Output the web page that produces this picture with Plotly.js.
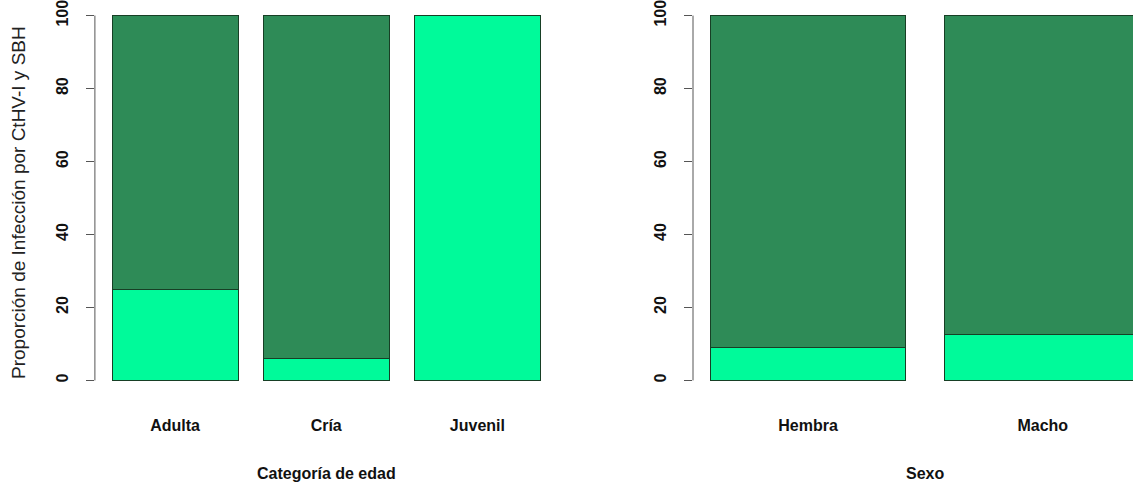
<!DOCTYPE html>
<html>
<head>
<meta charset="utf-8">
<script src="https://cdn.plot.ly/plotly-3.0.1.min.js"></script>
<style>
  html, body { margin: 0; padding: 0; background: #fff; }
  #chart { width: 1133px; height: 485px; }
</style>
</head>
<body>
<div id="chart"></div>
<script>
// Age categories: percentage infected (light) and not infected (dark)
const edadCategorias = ['Adulta', 'Cría', 'Juvenil'];
const edadInfectados = [25, 6, 100];
const edadNoInfectados = [75, 94, 0];

// Sex categories
const sexoCategorias = ['Hembra', 'Macho'];
const sexoInfectados = [9, 12.5];
const sexoNoInfectados = [91, 87.5];

const yTicks = [0, 20, 40, 60, 80, 100];

const colorClaro = '#00FA9A';
const colorOscuro = '#2E8B57';
const borde = { color: '#173f25', width: 1 };

const W = 1133;
const boldFont = { family: 'Liberation Sans, Arial, sans-serif', size: 16, color: '#111', weight: 'bold' };

const traces = [
  { type: 'bar', x: edadCategorias, y: edadInfectados, xaxis: 'x', yaxis: 'y',
    marker: { color: colorClaro, line: borde }, hoverinfo: 'x+y' },
  { type: 'bar', x: edadCategorias, y: edadNoInfectados, xaxis: 'x', yaxis: 'y',
    marker: { color: colorOscuro, line: borde }, hoverinfo: 'x+y' },
  { type: 'bar', x: sexoCategorias, y: sexoInfectados, xaxis: 'x2', yaxis: 'y2',
    marker: { color: colorClaro, line: borde }, hoverinfo: 'x+y' },
  { type: 'bar', x: sexoCategorias, y: sexoNoInfectados, xaxis: 'x2', yaxis: 'y2',
    marker: { color: colorOscuro, line: borde }, hoverinfo: 'x+y' }
];

function yAxis(anchor) {
  return {
    anchor: anchor,
    range: [-4, 104],
    tickvals: yTicks,
    ticktext: yTicks.map(String),
    ticks: 'outside', ticklen: 8, tickwidth: 1, tickcolor: '#555',
    tickangle: -90,
    ticklabelstandoff: 12,
    ticklabeloverflow: 'allow',
    tickfont: boldFont,
    showgrid: false, zeroline: false, showline: false,
    fixedrange: true
  };
}

function xAxis(anchor, domain, range) {
  return {
    anchor: anchor,
    type: 'category',
    domain: domain,
    range: range,
    ticks: '', showline: false, showgrid: false, zeroline: false,
    tickfont: boldFont,
    ticklabelstandoff: 19,
    fixedrange: true
  };
}

// Axis lines span only the 0–100 data range
function axisLine(xref, yref) {
  return { type: 'line', layer: 'above', xref: xref + ' domain', yref: yref,
           x0: 0, x1: 0, y0: 0, y1: 100,
           line: { color: '#555', width: 1 } };
}

const layout = {
  width: W, height: 485,
  margin: { l: 0, r: 0, t: 1, b: 90 },
  paper_bgcolor: '#fff', plot_bgcolor: '#fff',
  barmode: 'stack',
  bargap: 1 / 6,
  showlegend: false,
  xaxis: xAxis('y', [94.9 / W, 557.5 / W], [-0.53, 2.53]),
  yaxis: yAxis('x'),
  xaxis2: xAxis('y2', [693 / W, 1], [-0.49, 1.3846]),
  yaxis2: yAxis('x2'),
  shapes: [axisLine('x', 'y'), axisLine('x2', 'y2')],
  annotations: [
    { text: 'Categoría de edad', xref: 'paper', yref: 'paper',
      x: 326 / W, y: 1 - (473 - 1) / 394, xanchor: 'center', yanchor: 'middle',
      showarrow: false, font: boldFont },
    { text: 'Sexo', xref: 'paper', yref: 'paper',
      x: 925 / W, y: 1 - (473 - 1) / 394, xanchor: 'center', yanchor: 'middle',
      showarrow: false, font: boldFont },
    { text: 'Proporción de Infección por CtHV-I y SBH', xref: 'paper', yref: 'paper',
      x: 18 / W, y: 1 - (203 - 1) / 394, xanchor: 'center', yanchor: 'middle',
      textangle: -90, showarrow: false,
      font: { family: 'Liberation Sans, Arial, sans-serif', size: 19, color: '#222' } }
  ]
};

Plotly.newPlot('chart', traces, layout, { displayModeBar: false, staticPlot: true });
</script>
</body>
</html>
